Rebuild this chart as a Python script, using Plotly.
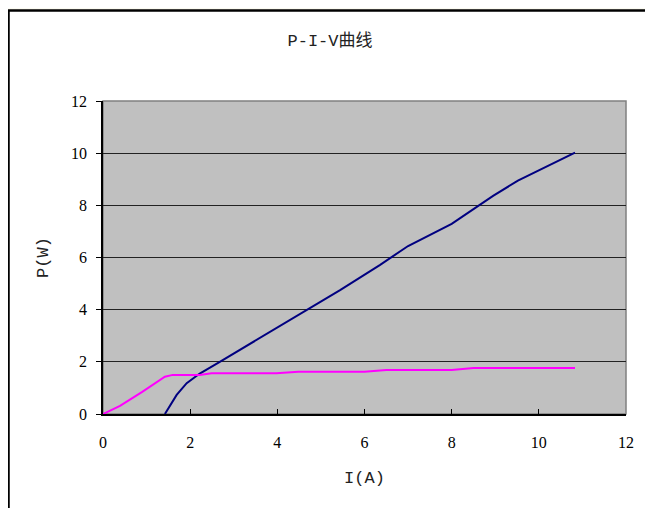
import plotly.graph_objects as go

# Data
p_i = [1.42, 1.69, 1.92, 2.22, 2.68, 4.0, 5.44, 6.35, 7.0, 8.0, 8.95, 9.52, 10.83]
p_w = [0.0, 0.73, 1.18, 1.55, 2.0, 3.32, 4.75, 5.71, 6.44, 7.29, 8.36, 8.95, 10.02]

v_i = [0.0, 0.39, 0.9, 1.42, 1.6, 2.22, 2.49, 3.98, 4.48, 6.0, 6.5, 8.0, 8.5, 10.83]
v_w = [0.0, 0.31, 0.85, 1.43, 1.5, 1.5, 1.56, 1.56, 1.62, 1.62, 1.69, 1.69, 1.76, 1.76]

x_ticks = [0, 2, 4, 6, 8, 10, 12]
y_ticks = [0, 2, 4, 6, 8, 10, 12]

SERIF = "Liberation Serif, Noto Sans CJK SC, serif"
MONO = "Liberation Mono, Noto Sans CJK SC, monospace"
W, H = 653, 508
OFF = 8  # page body margin
L, R, T, B = 103 - OFF, 27 + OFF, 101 - OFF, 94 + OFF
pw, ph = W - L - R, H - T - B

def px(xp):
    return (xp - L) / pw

def py(yp):
    return (H - B - yp) / ph

fig = go.Figure()
fig.add_trace(go.Scatter(x=p_i, y=p_w, mode="lines", line=dict(color="#000080", width=2),
                         showlegend=False, hoverinfo="skip"))
fig.add_trace(go.Scatter(x=v_i, y=v_w, mode="lines", line=dict(color="#ff00ff", width=2),
                         showlegend=False, hoverinfo="skip"))

shapes = [
    dict(type="rect", xref="paper", yref="paper", x0=px(0.5), x1=px(680), y0=py(530), y1=py(2.5),
         fillcolor="white", line=dict(color="black", width=2.5), layer="below"),
    dict(type="rect", xref="paper", yref="paper", x0=0, x1=1, y0=0, y1=1,
         fillcolor="#c0c0c0", line=dict(color="#808080", width=1.5), layer="below"),
]

fig.update_layout(
    width=W, height=H,
    margin=dict(l=L, r=R, t=T, b=B),
    paper_bgcolor="#fcfbf2",
    plot_bgcolor="rgba(0,0,0,0)",
    shapes=shapes,
    font=dict(family=SERIF, size=16, color="black"),
    title=dict(text="P-I-V曲线", x=(330 - OFF) / W, xanchor="center",
               y=1 - (40 - OFF) / H, yanchor="middle",
               font=dict(family=MONO, size=17, color="#222222")),
    xaxis=dict(range=[0, 12], tickvals=x_ticks, ticks="inside", ticklen=5, tickcolor="black",
               showgrid=False, zeroline=False, showline=True, linecolor="black", linewidth=1.5,
               tickfont=dict(family=SERIF, size=16), ticklabelstandoff=13,
               title=dict(text="I(A)", font=dict(family=MONO, size=17, color="#222222"), standoff=21)),
    yaxis=dict(range=[0, 12], tickvals=y_ticks, ticks="outside", ticklen=5, tickcolor="black",
               showgrid=True, gridcolor="#222222", gridwidth=1, zeroline=False,
               showline=True, linecolor="black", linewidth=1.5,
               tickfont=dict(family=SERIF, size=16), ticklabelstandoff=6,
               title=dict(text="P(W)", font=dict(family=MONO, size=17, color="#222222"), standoff=18)),
)

fig.write_html("out.html")
